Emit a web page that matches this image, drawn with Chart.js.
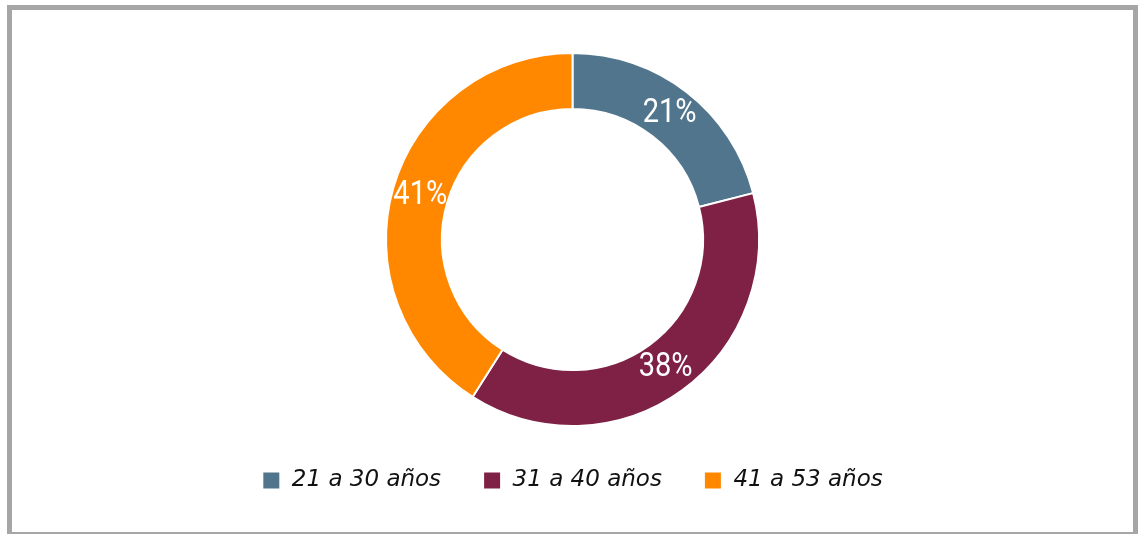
<!DOCTYPE html>
<html>
<head>
<meta charset="utf-8">
<script src="https://cdn.jsdelivr.net/npm/chart.js@4"></script>
<style>
  html, body { margin: 0; padding: 0; background: #fff; }
  body { width: 1138px; height: 534px; position: relative; overflow: hidden; }
  #frame {
    position: absolute; left: 7px; top: 5px; width: 1121px; height: 522px;
    border-left: 5px solid #a6a6a6; border-top: 5px solid #a6a6a6;
    border-right: 5px solid #a6a6a6; border-bottom: 2px solid #a6a6a6;
    background: #fff;
  }
  #wrap { position: absolute; left: 0; top: 0; width: 1121px; height: 522px; }
</style>
</head>
<body>
<div id="frame"><div id="wrap"><canvas id="c"></canvas></div></div>
<script>
const categories = ["21 a 30 años", "31 a 40 años", "41 a 53 años"];
const values = [21, 38, 41];
const labelsText = ["21%", "38%", "41%"];
const colors = ["#51758c", "#7f2145", "#ff8800"];

const sliceLabels = {
  id: 'sliceLabels',
  afterDatasetsDraw(chart) {
    const ctx = chart.ctx;
    const meta = chart.getDatasetMeta(0);
    meta.data.forEach((arc, i) => {
      const p = arc.tooltipPosition();
      ctx.save();
      ctx.translate(p.x, p.y);
      ctx.scale(0.88, 1);
      ctx.fillStyle = '#ffffff';
      ctx.font = '33px Roboto, "DejaVu Sans", sans-serif';
      ctx.textAlign = 'center';
      ctx.textBaseline = 'middle';
      ctx.fillText(labelsText[i], 0, 0);
      ctx.restore();
    });
  }
};

new Chart(document.getElementById('c'), {
  type: 'doughnut',
  data: {
    labels: categories,
    datasets: [{
      data: values,
      backgroundColor: colors,
      borderColor: '#ffffff',
      borderWidth: 2,
      hoverOffset: 0
    }]
  },
  options: {
    responsive: true,
    maintainAspectRatio: false,
    animation: false,
    cutout: '70%',
    layout: { padding: { top: 42, bottom: 30 } },
    plugins: {
      tooltip: { enabled: false },
      legend: {
        position: 'bottom',
        labels: {
          boxWidth: 18,
          boxHeight: 18,
          padding: 42,
          color: '#111111',
          font: { family: '"DejaVu Sans", sans-serif', size: 23, style: 'italic' }
        }
      }
    }
  },
  plugins: [sliceLabels]
});
</script>
</body>
</html>
